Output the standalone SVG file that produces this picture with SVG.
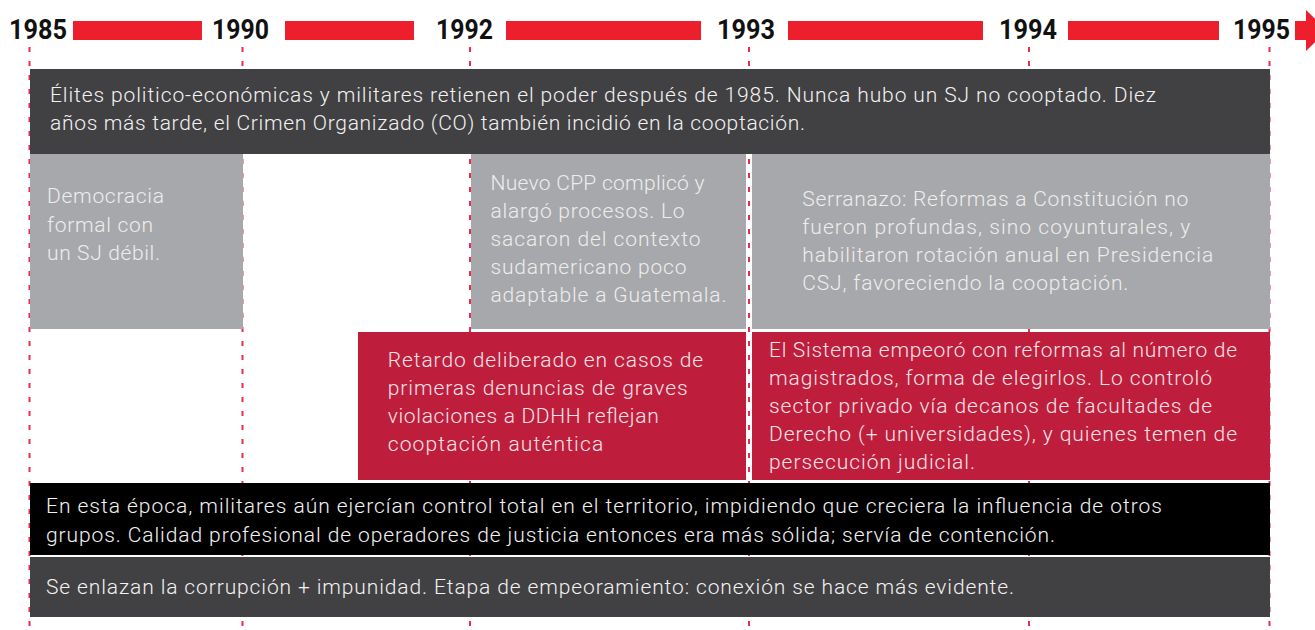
<svg xmlns="http://www.w3.org/2000/svg" width="1315" height="630" viewBox="0 0 1315 630">
<style>
.yr{font-family:Roboto,"Liberation Sans",sans-serif;font-weight:700;font-size:28px;fill:#111}
.bar{fill:#ed1f2d}
.vl{stroke:#ee2a4c;stroke-width:2;stroke-dasharray:5 9;fill:none}
.t{font-family:Roboto,"Liberation Sans",sans-serif;font-size:21px;font-weight:300}
.tg{fill:#ededed}
.tr{fill:#f6e4e8}
.td{fill:#f2f2f2}
.dark{fill:#414042}
.gray{fill:#a7a8ab}
.red{fill:#be1e3c}
.blk{fill:#000}
</style>
<rect width="1315" height="630" fill="#fff"/>
<g id="timeline">
<text class="yr" x="9" y="39" textLength="58" lengthAdjust="spacingAndGlyphs">1985</text>
<rect class="bar" x="73" y="21" width="129" height="19"/>
<text class="yr" x="212" y="39" textLength="57" lengthAdjust="spacingAndGlyphs">1990</text>
<rect class="bar" x="285" y="21" width="129" height="19"/>
<text class="yr" x="436" y="39" textLength="57" lengthAdjust="spacingAndGlyphs">1992</text>
<rect class="bar" x="506" y="21" width="195" height="19"/>
<text class="yr" x="717" y="39" textLength="58" lengthAdjust="spacingAndGlyphs">1993</text>
<rect class="bar" x="788" y="21" width="195" height="19"/>
<text class="yr" x="999" y="39" textLength="58" lengthAdjust="spacingAndGlyphs">1994</text>
<rect class="bar" x="1068" y="21" width="151" height="19"/>
<text class="yr" x="1233" y="39" textLength="57" lengthAdjust="spacingAndGlyphs">1995</text>
<polygon class="bar" points="1295,21 1306,21 1306,10 1327,30.5 1306,51 1306,40 1295,40"/>
</g>
<g id="connectors">
<line class="vl" x1="29.5" y1="47" x2="29.5" y2="630"/>
<line class="vl" x1="242.5" y1="47" x2="242.5" y2="630"/>
<line class="vl" x1="470" y1="47" x2="470" y2="630"/>
<line class="vl" x1="749" y1="47" x2="749" y2="630"/>
<line class="vl" x1="1029" y1="47" x2="1029" y2="630"/>
<line class="vl" x1="1269.5" y1="47" x2="1269.5" y2="630"/>
</g>
<g id="elites">
<rect class="dark" x="30" y="69" width="1240" height="85"/>
<text class="t td" x="50" y="102" textLength="1106">Élites politico-económicas y militares retienen el poder después de 1985. Nunca hubo un SJ no cooptado. Diez</text>
<text class="t td" x="50" y="130" textLength="755">años más tarde, el Crimen Organizado (CO) también incidió en la cooptación.</text>
</g>
<g id="democracia">
<rect class="gray" x="30" y="154" width="213" height="175"/>
<text class="t tg" x="47" y="203" textLength="117">Democracia</text>
<text class="t tg" x="47" y="232" textLength="106">formal con</text>
<text class="t tg" x="47" y="260" textLength="113">un SJ débil.</text>
</g>
<g id="cpp">
<rect class="gray" x="471" y="154" width="275" height="175"/>
<text class="t tg" x="490.5" y="189.5" textLength="214">Nuevo CPP complicó y</text>
<text class="t tg" x="490.5" y="217.5" textLength="194">alargó procesos. Lo</text>
<text class="t tg" x="490.5" y="245.5" textLength="210">sacaron del contexto</text>
<text class="t tg" x="490.5" y="273.5" textLength="196">sudamericano poco</text>
<text class="t tg" x="490.5" y="301.5" textLength="236">adaptable a Guatemala.</text>
</g>
<g id="serranazo">
<rect class="gray" x="752" y="154" width="518" height="175"/>
<text class="t tg" x="802.3" y="205.5" textLength="386">Serranazo: Reformas a Constitución no</text>
<text class="t tg" x="802.3" y="233.5" textLength="388">fueron profundas, sino coyunturales, y</text>
<text class="t tg" x="802.3" y="261.5" textLength="411">habilitaron rotación anual en Presidencia</text>
<text class="t tg" x="802.3" y="289.5" textLength="326">CSJ, favoreciendo la cooptación.</text>
</g>
<g id="retardo">
<rect class="red" x="358" y="332" width="388" height="148"/>
<text class="t tr" x="387.7" y="366.5" textLength="315.5">Retardo deliberado en casos de</text>
<text class="t tr" x="387.7" y="394.5" textLength="300">primeras denuncias de graves</text>
<text class="t tr" x="387.7" y="422.5" textLength="271">violaciones a DDHH reflejan</text>
<text class="t tr" x="387.7" y="450.5" textLength="215.5">cooptación auténtica</text>
</g>
<g id="sistema">
<rect class="red" x="752" y="332" width="518" height="148"/>
<text class="t tr" x="769" y="357" textLength="468">El Sistema empeoró con reformas al número de</text>
<text class="t tr" x="769" y="385" textLength="443">magistrados, forma de elegirlos. Lo controló</text>
<text class="t tr" x="769" y="413" textLength="443">sector privado vía decanos de facultades de</text>
<text class="t tr" x="769" y="441" textLength="468">Derecho (+ universidades), y quienes temen de</text>
<text class="t tr" x="769" y="469" textLength="206">persecución judicial.</text>
</g>
<g id="militares">
<rect class="blk" x="30" y="483" width="1240" height="72"/>
<text class="t td" x="46" y="513" textLength="1116">En esta época, militares aún ejercían control total en el territorio, impidiendo que creciera la influencia de otros</text>
<text class="t td" x="46" y="541.5" textLength="1009">grupos. Calidad profesional de operadores de justicia entonces era más sólida; servía de contención.</text>
</g>
<g id="corrupcion">
<rect class="dark" x="30" y="557" width="1240" height="60"/>
<text class="t td" x="46" y="594" textLength="968">Se enlazan la corrupción + impunidad. Etapa de empeoramiento: conexión se hace más evidente.</text>
</g>
</svg>
